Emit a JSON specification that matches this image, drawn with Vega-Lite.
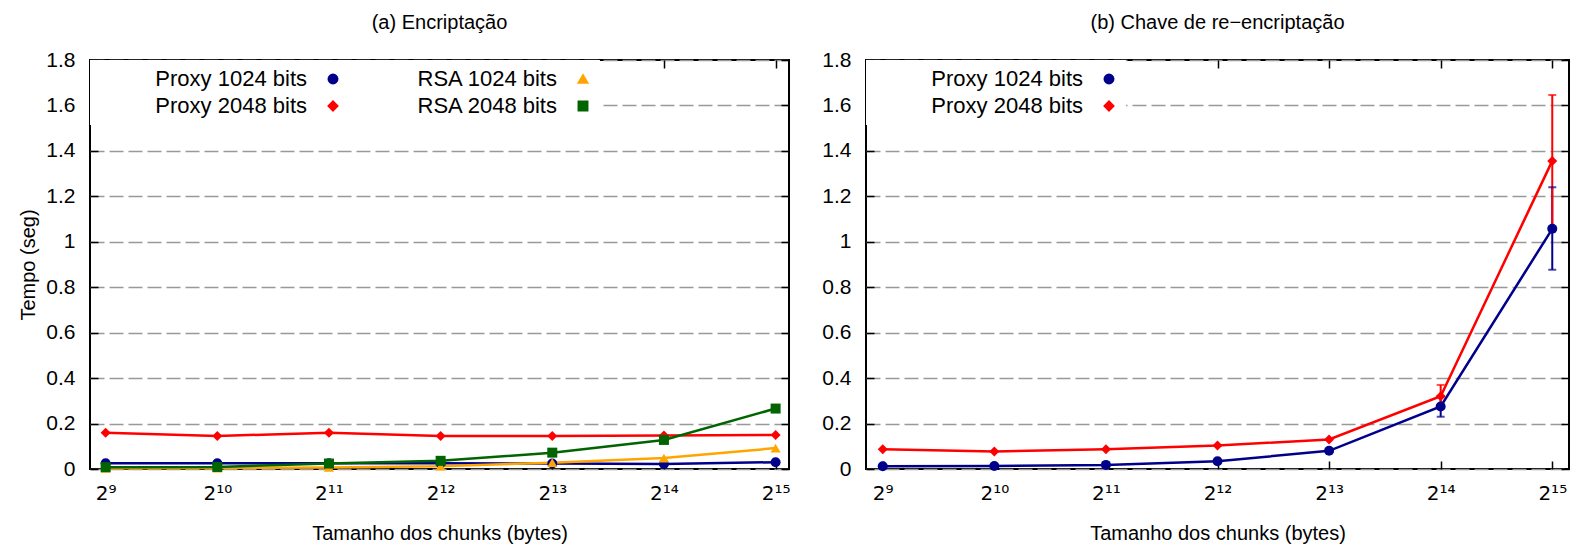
{
  "$schema": "https://vega.github.io/schema/vega-lite/v6.json",
  "padding": {"left": 17, "top": 12, "right": 5, "bottom": 0},
  "spacing": 29,
  "config": {
    "font": "Liberation Sans",
    "view": {"stroke": "#000", "strokeWidth": 2},
    "axis": {
      "labelFont": "Liberation Sans", "labelFontSize": 21, "labelColor": "#000",
      "titleFont": "Liberation Sans", "titleColor": "#000", "titleFontSize": 20, "titleFontWeight": "normal",
      "grid": false, "domain": false, "tickColor": "#000", "tickWidth": 1.5, "tickSize": -8
    },
    "title": {"font": "Liberation Sans", "fontSize": 20, "fontWeight": "normal", "color": "#000", "offset": 16},
    "legend": {
      "title": null, "orient": "top-left", "offset": 0, "padding": 8,
      "fillColor": "#fff", "labelFont": "Liberation Sans", "labelFontSize": 22, "labelColor": "#000",
      "symbolSize": 80, "rowPadding": 5, "labelAlign": "right", "labelOffset": -37, "symbolOffset": 224, "columnPadding": 6,
      "symbolStrokeWidth": 2, "symbolOpacity": 1
    }
  },
  "resolve": {
    "scale": {"color": "independent", "shape": "independent", "x": "independent", "y": "independent"},
    "legend": {"color": "independent", "shape": "independent"}
  },
  "datasets": {
    "enc": [
      {"serie": "Proxy 1024 bits", "exp": 9, "t": 0.025},
      {"serie": "Proxy 1024 bits", "exp": 10, "t": 0.025},
      {"serie": "Proxy 1024 bits", "exp": 11, "t": 0.025},
      {"serie": "Proxy 1024 bits", "exp": 12, "t": 0.025},
      {"serie": "Proxy 1024 bits", "exp": 13, "t": 0.024},
      {"serie": "Proxy 1024 bits", "exp": 14, "t": 0.022},
      {"serie": "Proxy 1024 bits", "exp": 15, "t": 0.03},
      {"serie": "Proxy 2048 bits", "exp": 9, "t": 0.16},
      {"serie": "Proxy 2048 bits", "exp": 10, "t": 0.145},
      {"serie": "Proxy 2048 bits", "exp": 11, "t": 0.16},
      {"serie": "Proxy 2048 bits", "exp": 12, "t": 0.145},
      {"serie": "Proxy 2048 bits", "exp": 13, "t": 0.145},
      {"serie": "Proxy 2048 bits", "exp": 14, "t": 0.147},
      {"serie": "Proxy 2048 bits", "exp": 15, "t": 0.15},
      {"serie": "RSA 1024 bits", "exp": 9, "t": 0.003},
      {"serie": "RSA 1024 bits", "exp": 10, "t": 0.004},
      {"serie": "RSA 1024 bits", "exp": 11, "t": 0.007},
      {"serie": "RSA 1024 bits", "exp": 12, "t": 0.012},
      {"serie": "RSA 1024 bits", "exp": 13, "t": 0.028},
      {"serie": "RSA 1024 bits", "exp": 14, "t": 0.048},
      {"serie": "RSA 1024 bits", "exp": 15, "t": 0.092},
      {"serie": "RSA 2048 bits", "exp": 9, "t": 0.008},
      {"serie": "RSA 2048 bits", "exp": 10, "t": 0.009},
      {"serie": "RSA 2048 bits", "exp": 11, "t": 0.024},
      {"serie": "RSA 2048 bits", "exp": 12, "t": 0.036},
      {"serie": "RSA 2048 bits", "exp": 13, "t": 0.072},
      {"serie": "RSA 2048 bits", "exp": 14, "t": 0.128},
      {"serie": "RSA 2048 bits", "exp": 15, "t": 0.266}
    ],
    "reenc": [
      {"serie": "Proxy 1024 bits", "exp": 9, "t": 0.012},
      {"serie": "Proxy 1024 bits", "exp": 10, "t": 0.013},
      {"serie": "Proxy 1024 bits", "exp": 11, "t": 0.018},
      {"serie": "Proxy 1024 bits", "exp": 12, "t": 0.034},
      {"serie": "Proxy 1024 bits", "exp": 13, "t": 0.08},
      {"serie": "Proxy 1024 bits", "exp": 14, "t": 0.275},
      {"serie": "Proxy 1024 bits", "exp": 15, "t": 1.057},
      {"serie": "Proxy 2048 bits", "exp": 9, "t": 0.087},
      {"serie": "Proxy 2048 bits", "exp": 10, "t": 0.077},
      {"serie": "Proxy 2048 bits", "exp": 11, "t": 0.087},
      {"serie": "Proxy 2048 bits", "exp": 12, "t": 0.103},
      {"serie": "Proxy 2048 bits", "exp": 13, "t": 0.13},
      {"serie": "Proxy 2048 bits", "exp": 14, "t": 0.32},
      {"serie": "Proxy 2048 bits", "exp": 15, "t": 1.356}
    ],
    "reencErr": [
      {"serie": "Proxy 1024 bits", "exp": 14, "lo": 0.23, "hi": 0.32},
      {"serie": "Proxy 1024 bits", "exp": 15, "lo": 0.877, "hi": 1.24},
      {"serie": "Proxy 2048 bits", "exp": 14, "lo": 0.27, "hi": 0.37},
      {"serie": "Proxy 2048 bits", "exp": 15, "lo": 1.066, "hi": 1.646}
    ]
  },
  "hconcat": [
    {
      "width": 699, "height": 409,
      "title": "(a) Encriptação",
      "data": {"name": "enc"},
      "resolve": {"axis": {"x": "independent", "y": "independent"}},
      "layer": [
        {
          "mark": {"type": "line", "strokeWidth": 2.5},
          "encoding": {
            "x": {"field": "exp", "type": "quantitative",
              "scale": {"domain": [8.86, 15.12], "nice": false, "zero": false},
              "axis": {"values": [9, 10, 11, 12, 13, 14, 15], "labelPadding": 22, "labelFontSize": 20, "labelFont": "DejaVu Sans",
                "labelExpr": "'2' + ['⁹','¹⁰','¹¹','¹²','¹³','¹⁴','¹⁵'][datum.value - 9]",
                "title": "Tamanho dos chunks (bytes)", "titlePadding": 20}},
            "y": {"field": "t", "type": "quantitative",
              "scale": {"domain": [0, 1.8], "nice": false},
              "axis": {"values": [0, 0.2, 0.4, 0.6, 0.8, 1, 1.2, 1.4, 1.6, 1.8], "format": "~g",
                "labelPadding": 23, "grid": true, "gridDash": [14, 5], "gridColor": "#999", "gridWidth": 1.5,
                "title": "Tempo (seg)", "titleX": -52}},
            "color": {"field": "serie", "type": "nominal",
              "scale": {"domain": ["Proxy 1024 bits", "Proxy 2048 bits", "RSA 1024 bits", "RSA 2048 bits"],
                "range": ["#00008b", "#ff0000", "#ffa500", "#006400"]},
              "legend": {"columns": 2,
                "symbolType": {"expr": "['M-2.6,0L2.6,0M1,0A1,1,0,1,1,-1,0A1,1,0,1,1,1,0Z','M-2.6,0L2.6,0M-1,0L0,-1.2L1,0L0,1.2Z','M-2.6,0L2.6,0M0,-1.1L1.1,0.8L-1.1,0.8Z','M-2.6,0L2.6,0M-0.95,-0.95L0.95,-0.95L0.95,0.95L-0.95,0.95Z'][indexof(['Proxy 1024 bits','Proxy 2048 bits','RSA 1024 bits','RSA 2048 bits'], datum.value)]"},
                "symbolStrokeColor": {"expr": "['#00008b','#ff0000','#ffa500','#006400'][indexof(['Proxy 1024 bits','Proxy 2048 bits','RSA 1024 bits','RSA 2048 bits'], datum.value)]"},
                "symbolFillColor": {"expr": "['#00008b','#ff0000','#ffa500','#006400'][indexof(['Proxy 1024 bits','Proxy 2048 bits','RSA 1024 bits','RSA 2048 bits'], datum.value)]"}}}
          }
        },
        {
          "mark": {"type": "point", "filled": true, "opacity": 1, "size": 100},
          "encoding": {
            "x": {"field": "exp", "type": "quantitative",
              "axis": {"orient": "top", "values": [9, 10, 11, 12, 13, 14, 15], "labels": false, "title": null}},
            "y": {"field": "t", "type": "quantitative",
              "axis": {"orient": "right", "values": [0, 0.2, 0.4, 0.6, 0.8, 1, 1.2, 1.4, 1.6, 1.8], "labels": false, "title": null}},
            "color": {"field": "serie", "type": "nominal"},
            "shape": {"field": "serie", "type": "nominal",
              "scale": {"domain": ["Proxy 1024 bits", "Proxy 2048 bits", "RSA 1024 bits", "RSA 2048 bits"],
                "range": ["circle", "diamond", "triangle-up", "square"]},
              "legend": null}
          }
        }
      ]
    },
    {
      "width": 703, "height": 409,
      "title": "(b) Chave de re−encriptação",
      "resolve": {"axis": {"x": "independent", "y": "independent"}},
      "layer": [
        {
          "data": {"name": "reencErr"},
          "mark": {"type": "rule", "strokeWidth": 2},
          "encoding": {
            "x": {"field": "exp", "type": "quantitative",
              "scale": {"domain": [8.85, 15.15], "nice": false, "zero": false},
              "axis": {"values": [9, 10, 11, 12, 13, 14, 15], "labelPadding": 22, "labelFontSize": 20, "labelFont": "DejaVu Sans",
                "labelExpr": "'2' + ['⁹','¹⁰','¹¹','¹²','¹³','¹⁴','¹⁵'][datum.value - 9]",
                "title": "Tamanho dos chunks (bytes)", "titlePadding": 20}},
            "y": {"field": "lo", "type": "quantitative",
              "scale": {"domain": [0, 1.8], "nice": false},
              "axis": {"values": [0, 0.2, 0.4, 0.6, 0.8, 1, 1.2, 1.4, 1.6, 1.8], "format": "~g",
                "labelPadding": 23, "grid": true, "gridDash": [14, 5], "gridColor": "#999", "gridWidth": 1.5,
                "title": null}},
            "y2": {"field": "hi"},
            "color": {"field": "serie", "type": "nominal",
              "scale": {"domain": ["Proxy 1024 bits", "Proxy 2048 bits"], "range": ["#00008b", "#ff0000"]},
              "legend": {
                "symbolType": {"expr": "['M-2.6,0L2.6,0M1,0A1,1,0,1,1,-1,0A1,1,0,1,1,1,0Z','M-2.6,0L2.6,0M-1,0L0,-1.2L1,0L0,1.2Z'][indexof(['Proxy 1024 bits','Proxy 2048 bits'], datum.value)]"},
                "symbolStrokeColor": {"expr": "['#00008b','#ff0000'][indexof(['Proxy 1024 bits','Proxy 2048 bits'], datum.value)]"},
                "symbolFillColor": {"expr": "['#00008b','#ff0000'][indexof(['Proxy 1024 bits','Proxy 2048 bits'], datum.value)]"}}}
          }
        },
        {
          "data": {"name": "reencErr"},
          "mark": {"type": "tick", "orient": "horizontal", "size": 8, "thickness": 2},
          "encoding": {
            "x": {"field": "exp", "type": "quantitative", "axis": null},
            "y": {"field": "lo", "type": "quantitative", "axis": null},
            "color": {"field": "serie", "type": "nominal"}
          }
        },
        {
          "data": {"name": "reencErr"},
          "mark": {"type": "tick", "orient": "horizontal", "size": 8, "thickness": 2},
          "encoding": {
            "x": {"field": "exp", "type": "quantitative", "axis": null},
            "y": {"field": "hi", "type": "quantitative", "axis": null},
            "color": {"field": "serie", "type": "nominal"}
          }
        },
        {
          "data": {"name": "reenc"},
          "mark": {"type": "line", "strokeWidth": 2.5},
          "encoding": {
            "x": {"field": "exp", "type": "quantitative", "axis": null},
            "y": {"field": "t", "type": "quantitative", "axis": null},
            "color": {"field": "serie", "type": "nominal"}
          }
        },
        {
          "data": {"name": "reenc"},
          "mark": {"type": "point", "filled": true, "opacity": 1, "size": 100},
          "encoding": {
            "x": {"field": "exp", "type": "quantitative",
              "axis": {"orient": "top", "values": [9, 10, 11, 12, 13, 14, 15], "labels": false, "title": null}},
            "y": {"field": "t", "type": "quantitative",
              "axis": {"orient": "right", "values": [0, 0.2, 0.4, 0.6, 0.8, 1, 1.2, 1.4, 1.6, 1.8], "labels": false, "title": null}},
            "color": {"field": "serie", "type": "nominal"},
            "shape": {"field": "serie", "type": "nominal",
              "scale": {"domain": ["Proxy 1024 bits", "Proxy 2048 bits"], "range": ["circle", "diamond"]},
              "legend": null}
          }
        }
      ]
    }
  ]
}
